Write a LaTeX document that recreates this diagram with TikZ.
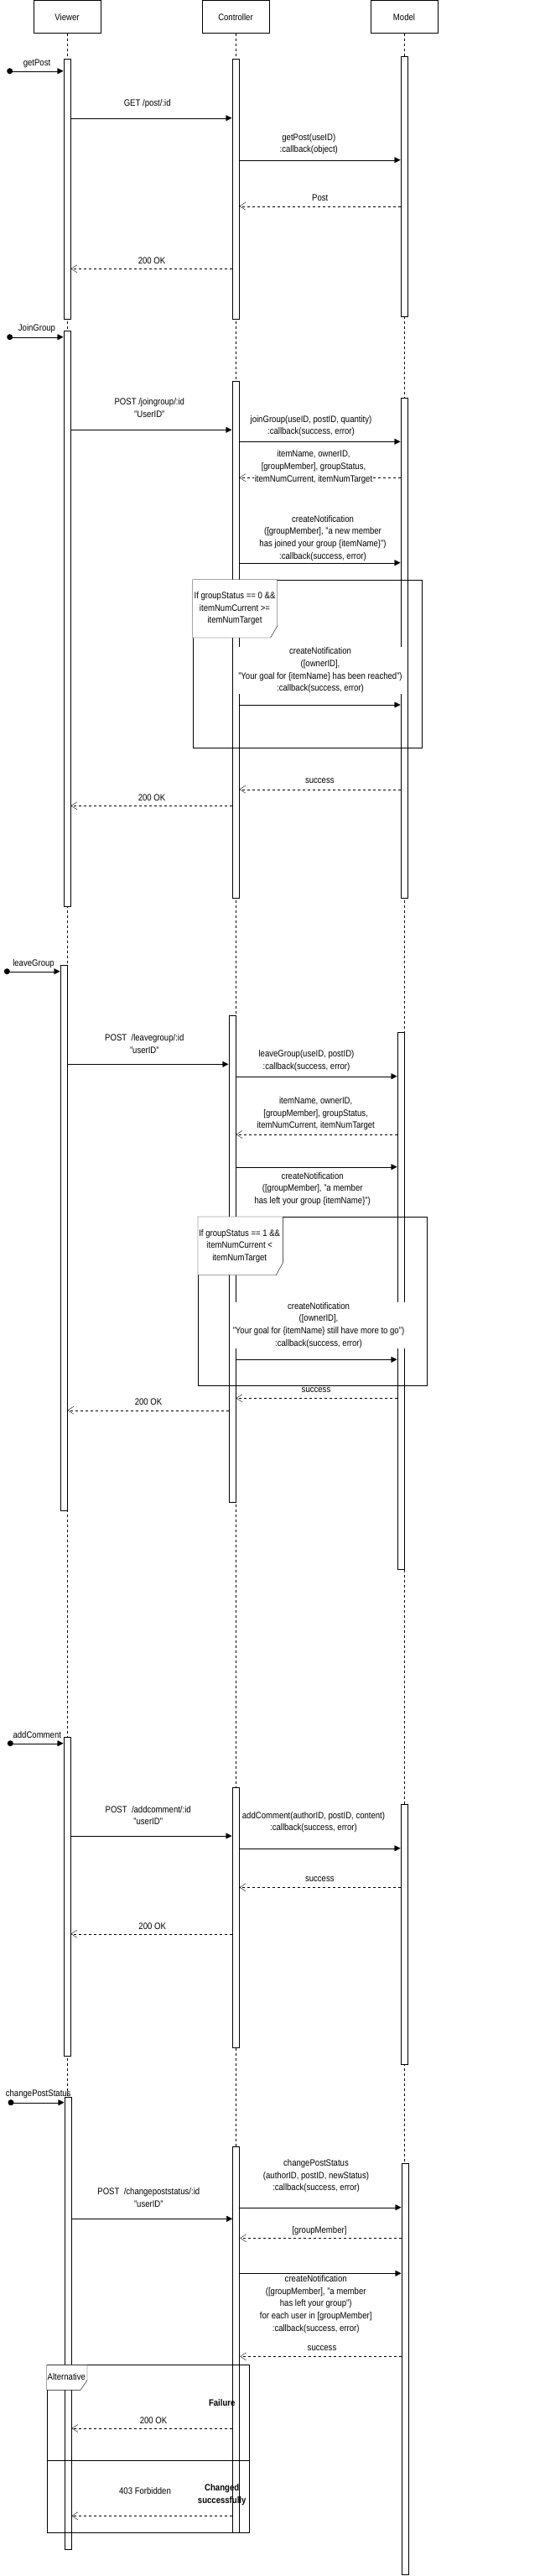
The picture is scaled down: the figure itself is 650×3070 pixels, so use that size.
\documentclass[tikz,border=0pt]{standalone}
\usepackage{fontspec}
\setmainfont{Liberation Sans}[FakeStretch=0.87]
\usetikzlibrary{arrows.meta}
\pgfdeclarelayer{bg}
\pgfsetlayers{bg,main}
\newcommand\actbar[5]{\node[actbox,minimum width={(#3-#2)*1pt},minimum height={(#5-#4)*1pt}] (#1) at ({(#2+#3)/2},{(#4+#5)/2}) {};}
\begin{document}
\begin{tikzpicture}[x=1pt,y=-1pt,line width=1pt,
  every node/.style={font=\fontsize{11}{14.7}\selectfont},
  headbox/.style={draw,minimum width=80pt,minimum height=39pt,inner sep=0pt},
  actbox/.style={draw,fill=white,inner sep=0pt},
  life/.style={dash pattern=on 3pt off 3pt},
  call/.style={-{Triangle[length=7pt,width=7pt]}},
  ret/.style={dash pattern=on 3pt off 3pt,-{Straight Barb[length=7pt,width=9pt]}},
  lbl/.style={align=center,inner sep=0.5pt},
  lblw/.style={lbl,fill=white},
  dotnode/.style={circle,fill,inner sep=0pt,minimum size=7pt},
  pent/.style={draw,fill=white}]
\useasboundingbox (0,0) rectangle (650,3070);

% heads
\node[headbox] (VB) at (80,20.5) {Viewer};
\node[headbox] (CB) at (281,20.5) {Controller};
\node[headbox] (MB) at (482,20.5) {Model};

% activation bars
\actbar{V1}{76}{84}{70.3}{380.3}
\actbar{C1}{277}{285}{70.3}{380.3}
\actbar{M1}{478}{486}{67.3}{377}
\actbar{V2}{76}{84}{394.3}{1080.3}
\actbar{C2}{277}{285}{454.3}{1070.3}
\actbar{M2}{478}{486}{474.3}{1070.3}
\actbar{V3}{72}{80}{1150.3}{1800.3}
\actbar{C3}{273}{281}{1210.3}{1790.3}
\actbar{M3}{474}{482}{1230.3}{1870.3}
\actbar{V4}{76}{84}{2070.3}{2450.3}
\actbar{C4}{277}{285}{2130.3}{2440.3}
\actbar{M4}{478}{486}{2150.3}{2460.3}
\actbar{V5}{77}{85}{2499}{3038.3}
\actbar{C5}{277.7}{285.7}{2558.3}{3018.3}
\actbar{M5}{479}{487}{2578.3}{3068.3}

% lifelines
\begin{pgfonlayer}{bg}
\draw[life] (VB.south) -- (VB.south |- V5.south);
\draw[life] (CB.south) -- (CB.south |- C5.south);
\draw[life] (MB.south) -- (MB.south |- M5.south);
\end{pgfonlayer}

% frames
\draw (229.7,690.7) rectangle (503,891);
\draw[pent] (229.7,690.7) -- (330.7,690.7) -- (330.7,746) -- (322.7,760) -- (229.7,760) -- cycle;
\draw (236,1450) rectangle (509.3,1650.7);
\draw[pent] (236,1450) -- (337.3,1450) -- (337.3,1505) -- (329.3,1519.7) -- (236,1519.7) -- cycle;
\draw (55.7,2818.3) rectangle (297,3018.3);
\draw (55.7,2932.3) -- (297,2932.3);
\draw[pent] (55.7,2818.3) -- (104,2818.3) -- (104,2836.7) -- (96,2848.3) -- (55.7,2848.3) -- cycle;

\node[lbl] (g1) at (280,725.3) {If groupStatus == 0 \&\&\\itemNumCurrent >=\\itemNumTarget};
\node[lbl] (g2) at (285.7,1485) {If groupStatus == 1 \&\&\\itemNumCurrent <\\itemNumTarget};
\node[lbl] (g3) at (79.3,2832.7) {Alternative};

% ---- getPost
\node[dotnode] (s1) at (11.7,84.7) {};
\draw[call] (s1.center) -- (V1.west |- s1);
\node[lbl] (l1) at (44,75.7) {getPost};
\draw[call] (V1.east |- 0,140.7) -- (C1.west |- 0,140.7);
\node[lbl] (l2) at (175.7,123.3) {GET /post/:id};
\draw[call] (C1.east |- 0,190.7) -- (M1.west |- 0,190.7);
\node[lbl] (l3) at (368.3,171.8) {getPost(useID)\\:callback(object)};
\draw[ret] (M1.west |- 0,245.7) -- (C1.east |- 0,245.7);
\node[lbl] (l4) at (381.7,235.7) {Post};
\draw[ret] (C1.west |- 0,320.3) -- (V1.east |- 0,320.3);
\node[lbl] (l5) at (181,310.7) {200 OK};

% ---- JoinGroup
\node[dotnode] (s2) at (11.7,401.7) {};
\draw[call] (s2.center) -- (V2.west |- s2);
\node[lbl] (l6) at (44,391.7) {JoinGroup};
\draw[call] (V2.east |- 0,512.3) -- (C2.west |- 0,512.3);
\node[lbl] (l7) at (178.3,486) {POST /joingroup/:id\\"UserID"};
\draw[call] (C2.east |- 0,526.3) -- (M2.west |- 0,526.3);
\node[lbl] (l8) at (371,507.5) {joinGroup(useID, postID, quantity)\\:callback(success, error)};
\draw[ret] (M2.west |- 0,569.3) -- (C2.east |- 0,569.3);
\node[lblw] (l9) at (374,556.7) {itemName, ownerID,\\{}[groupMember], groupStatus,\\itemNumCurrent, itemNumTarget};
\draw[call] (C2.east |- 0,670.7) -- (M2.west |- 0,670.7);
\node[lbl] (l10) at (385,641.3) {createNotification\\([groupMember], "a new member\\has joined your group \{itemName\}")\\:callback(success, error)};
\draw[call] (C2.east |- 0,840) -- (M2.west |- 0,840);
\node[lblw] (l11) at (382,798.9) {createNotification\\([ownerID],\\"Your goal for \{itemName\} has been reached")\\:callback(success, error)};
\draw[ret] (M2.west |- 0,940.7) -- (C2.east |- 0,940.7);
\node[lbl] (l12) at (381.3,931) {success};
\draw[ret] (C2.west |- 0,960.3) -- (V2.east |- 0,960.3);
\node[lbl] (l13) at (181,950.7) {200 OK};

% ---- leaveGroup
\node[dotnode] (s3) at (8.3,1157.7) {};
\draw[call] (s3.center) -- (V3.west |- s3);
\node[lbl] (l14) at (40,1148.3) {leaveGroup};
\draw[call] (V3.east |- 0,1268.3) -- (C3.west |- 0,1268.3);
\node[lbl] (l15) at (172.3,1244.3) {POST~~/leavegroup/:id\\"userID"};
\draw[call] (C3.east |- 0,1282.7) -- (M3.west |- 0,1282.7);
\node[lbl] (l16) at (365.5,1263.8) {leaveGroup(useID, postID)\\:callback(success, error)};
\draw[ret] (M3.west |- 0,1352) -- (C3.east |- 0,1352);
\node[lbl] (l17) at (376.7,1327.3) {itemName, ownerID,\\{}[groupMember], groupStatus,\\itemNumCurrent, itemNumTarget};
\draw[call] (C3.east |- 0,1390.7) -- (M3.west |- 0,1390.7);
\node[lbl] (l18) at (372.7,1416.9) {createNotification\\([groupMember], "a member\\has left your group \{itemName\}")};
\draw[call] (C3.east |- 0,1620.3) -- (M3.west |- 0,1620.3);
\node[lblw] (l19) at (380,1579.2) {createNotification\\([ownerID],\\"Your goal for \{itemName\} still have more to go")\\:callback(success, error)};
\draw[ret] (M3.west |- 0,1666.3) -- (C3.east |- 0,1666.3);
\node[lbl] (l20) at (377,1657) {success};
\draw[ret] (C3.west |- 0,1680.7) -- (V3.east |- 0,1680.7);
\node[lbl] (l21) at (177,1671) {200 OK};

% ---- addComment
\node[dotnode] (s4) at (12.3,2077.7) {};
\draw[call] (s4.center) -- (V4.west |- s4);
\node[lbl] (l22) at (44.3,2067.7) {addComment};
\draw[call] (V4.east |- 0,2188) -- (C4.west |- 0,2188);
\node[lbl] (l23) at (176.7,2163.5) {POST~~/addcomment/:id\\"userID"};
\draw[call] (C4.east |- 0,2202.7) -- (M4.west |- 0,2202.7);
\node[lbl] (l24) at (374,2171.5) {addComment(authorID, postID, content)\\:callback(success, error)};
\draw[ret] (M4.west |- 0,2249.3) -- (C4.east |- 0,2249.3);
\node[lbl] (l25) at (381.3,2240) {success};
\draw[ret] (C4.west |- 0,2304.7) -- (V4.east |- 0,2304.7);
\node[lbl] (l26) at (181.7,2295.7) {200 OK};

% ---- changePostStatus
\node[dotnode] (s5) at (13,2505.7) {};
\draw[call] (s5.center) -- (V5.west |- s5);
\node[lbl] (l27) at (45.7,2495.7) {changePostStatus};
\draw[call] (V5.east |- 0,2644.3) -- (C5.west |- 0,2644.3);
\node[lbl] (l28) at (177.3,2619.3) {POST~~/changepoststatus/:id\\"userID"};
\draw[call] (C5.east |- 0,2630.7) -- (M5.west |- 0,2630.7);
\node[lbl] (l29) at (377,2593.2) {changePostStatus\\(authorID, postID, newStatus)\\:callback(success, error)};
\draw[ret] (M5.west |- 0,2667.3) -- (C5.east |- 0,2667.3);
\node[lbl] (l30) at (381,2658.3) {[groupMember]};
\draw[call] (C5.east |- 0,2709.3) -- (M5.west |- 0,2709.3);
\node[lbl] (l31) at (376.7,2746) {createNotification\\([groupMember], "a member\\has left your group")\\for each user in [groupMember]\\:callback(success, error)};
\draw[ret] (M5.west |- 0,2808.3) -- (C5.east |- 0,2808.3);
\node[lbl] (l32) at (384,2799) {success};
\node[lbl,font=\fontsize{11}{14.7}\selectfont\bfseries] (l33) at (264.7,2863.7) {Failure};
\draw[ret] (C5.west |- 0,2894) -- (V5.east |- 0,2894);
\node[lbl] (l34) at (183,2884.7) {200 OK};
\node[lbl] (l35) at (173,2968.7) {403 Forbidden};
\node[lbl,font=\fontsize{11}{14.7}\selectfont\bfseries] (l36) at (264.7,2973.2) {Changed\\successfully};
\draw[ret] (C5.west |- 0,2998.3) -- (V5.east |- 0,2998.3);
\end{tikzpicture}
\end{document}
